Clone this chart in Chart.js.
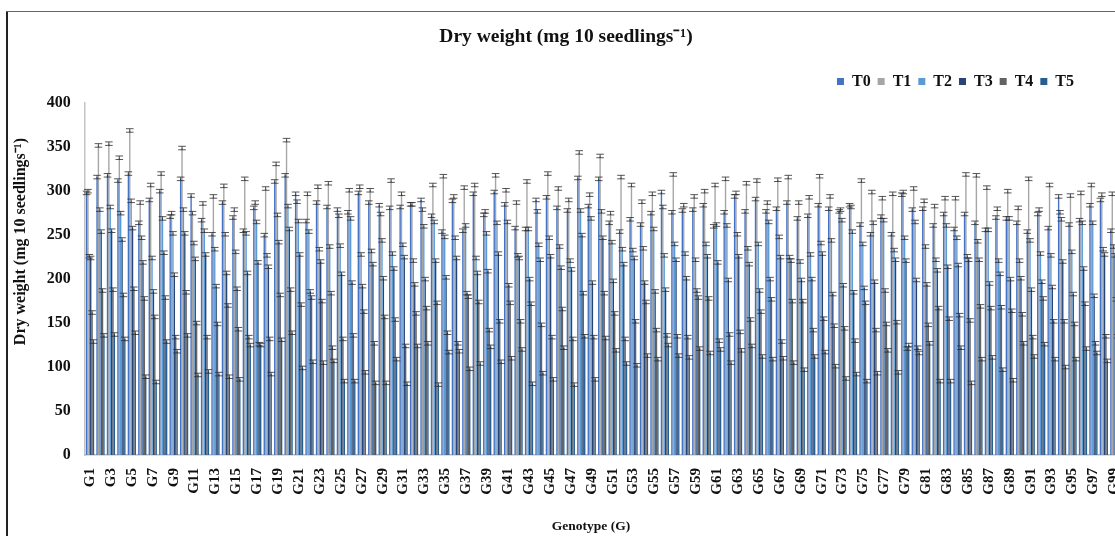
<!DOCTYPE html>
<html>
<head>
<meta charset="utf-8">
<style>
html,body{margin:0;padding:0;background:#fff;width:1115px;height:536px;overflow:hidden}
#wrap{position:absolute;left:0;top:0;width:1132px;height:536px}
#c{filter:blur(0.5px)}
#fl{position:absolute;left:6px;top:12px;width:2px;height:524px;background:#222}
#ft{position:absolute;left:6px;top:11px;width:1109px;height:1px;background:#666}
</style>
<script src="https://cdn.jsdelivr.net/npm/chart.js@4"></script>
</head>
<body>
<div id="wrap"><canvas id="c" width="1132" height="536" style="width:1132px;height:536px;display:block"></canvas></div>
<div id="fl"></div><div id="ft"></div>
<script>
const categories = ["G1","G2","G3","G4","G5","G6","G7","G8","G9","G10","G11","G12","G13","G14","G15","G16","G17","G18","G19","G20","G21","G22","G23","G24","G25","G26","G27","G28","G29","G30","G31","G32","G33","G34","G35","G36","G37","G38","G39","G40","G41","G42","G43","G44","G45","G46","G47","G48","G49","G50","G51","G52","G53","G54","G55","G56","G57","G58","G59","G60","G61","G62","G63","G64","G65","G66","G67","G68","G69","G70","G71","G72","G73","G74","G75","G76","G77","G78","G79","G80","G81","G82","G83","G84","G85","G86","G87","G88","G89","G90","G91","G92","G93","G94","G95","G96","G97","G98","G99","G100"];
const T0 = [298,316,318,312,320,264,290,300,271,314,295,267,251,287,270,255,281,250,311,318,297,266,287,282,279,276,298,287,284,281,282,285,290,272,254,289,255,297,273,299,285,258,257,290,293,281,278,315,283,314,264,254,268,262,275,299,276,278,279,284,260,276,294,277,291,277,280,287,269,272,284,280,277,284,262,251,271,251,296,279,280,261,274,257,274,264,256,270,269,264,254,274,258,294,262,267,284,290,255];
const T1 = [300,352,354,338,369,287,307,320,275,349,275,286,294,306,279,314,287,303,331,358,288,297,305,309,272,301,305,301,274,312,297,285,279,307,317,294,304,307,277,318,301,287,311,277,320,303,290,344,296,340,275,316,307,288,297,282,319,284,294,300,307,314,298,309,312,287,313,316,287,293,317,294,279,282,312,299,292,297,299,303,289,283,292,292,319,318,304,280,300,281,314,279,307,276,295,298,307,296,297];
const T2 = [226,279,282,275,289,247,224,269,252,279,241,255,234,251,231,252,265,227,273,283,266,254,234,237,238,269,228,232,244,229,239,221,260,265,248,247,261,224,252,264,265,227,257,239,247,237,221,278,269,277,242,234,233,235,257,227,240,229,222,240,262,261,251,235,240,265,248,225,220,228,241,244,267,254,240,264,267,233,247,265,237,222,261,247,226,243,256,221,269,221,244,229,227,268,231,264,264,234,237];
const T3 = [224,254,255,245,258,219,186,230,205,252,223,228,192,207,189,207,219,214,242,257,228,186,220,184,206,196,192,217,201,212,225,194,200,221,202,224,184,207,209,229,193,224,200,222,226,213,211,250,196,247,198,217,224,196,186,188,222,201,187,226,219,199,226,217,187,200,225,221,199,200,229,183,193,185,190,197,187,222,221,199,194,210,214,216,222,222,195,206,200,201,188,197,191,220,183,212,181,228,227];
const T4 = [162,187,188,182,189,178,157,179,134,185,150,134,149,170,143,134,126,132,182,188,171,179,175,122,132,136,163,127,157,154,124,161,167,173,139,127,180,174,142,152,173,152,172,148,134,166,132,184,134,184,161,132,152,174,142,136,135,134,179,178,130,137,140,154,163,177,129,175,175,142,155,147,144,130,173,142,149,151,121,122,148,167,155,159,153,169,167,168,164,160,134,178,152,152,149,172,127,135,177];
const T5 = [129,136,137,132,139,89,83,129,118,136,91,95,92,89,86,125,125,92,131,139,99,106,105,107,84,84,94,82,82,109,81,124,127,80,117,118,98,104,123,106,110,120,81,93,86,122,80,135,86,133,119,104,102,113,109,125,113,111,121,116,120,105,119,124,112,109,110,105,97,112,117,101,87,92,84,93,119,94,125,116,127,84,84,122,82,109,111,97,85,127,112,126,109,100,109,121,116,107,135];
const seriesNames = ["T0","T1","T2","T3","T4","T5"];
const seriesValues = [T0,T1,T2,T3,T4,T5];
const seriesColors = ["#4472C4","#A5A5A5","#5B9BD5","#264478","#636363","#255E91"];
const errorHalf = 2;
const yTicks = [0,50,100,150,200,250,300,350,400];
const titleText = "Dry weight (mg 10 seedlings\u207B\u00B9)";
const serif = "'Liberation Serif','Times New Roman',serif";

const errorBars = {
  id:'errorBars',
  afterDatasetsDraw(chart){
    const ctx = chart.ctx, y = chart.scales.y;
    ctx.save();
    ctx.strokeStyle = '#2b2b2b';
    ctx.lineWidth = 0.8;
    chart.data.datasets.forEach((ds,i)=>{
      chart.getDatasetMeta(i).data.forEach((bar,j)=>{
        const hi = y.getPixelForValue(ds.data[j]+errorHalf);
        const lo = y.getPixelForValue(ds.data[j]-errorHalf);
        const x = bar.x, w = 3.8;
        ctx.beginPath();
        ctx.moveTo(x,hi);ctx.lineTo(x,lo);
        ctx.moveTo(x-w,hi);ctx.lineTo(x+w,hi);
        ctx.moveTo(x-w,lo);ctx.lineTo(x+w,lo);
        ctx.stroke();
      });
    });
    ctx.restore();
  }
};
function shiftTitle(scale,dx,dy){
  const orig = scale.drawTitle;
  scale.drawTitle = function(){
    const c = this.ctx;
    c.save();c.translate(dx,dy);orig.call(this);c.restore();
  };
}
const placeBoxes = {
  id:'placeBoxes',
  afterLayout(chart){
    const l = chart.legend;
    const dx = 1081 - l.right;
    l.left += dx; l.right += dx;
    const h = l.bottom - l.top;
    l.top = 83 - h/2; l.bottom = l.top + h;
    chart.titleBlock.left = 0; chart.titleBlock.right = 1132;
    const x = chart.scales.x;
    x.left = 84.8; x.right = 1130; x.width = x.right - x.left;
    x.paddingLeft = 0; x.paddingRight = 0;
    x.configure();
    chart.chartArea.left = x.left; chart.chartArea.right = x.right; chart.chartArea.width = x.width;
    shiftTitle(chart.scales.y,0,-37.5);
    shiftTitle(x,591-(x.left+x.right)/2,0);
  }
};
new Chart(document.getElementById('c'),{
  type:'bar',
  data:{labels:categories,datasets:seriesNames.map((n,i)=>({label:n,data:seriesValues[i],backgroundColor:seriesColors[i],borderWidth:0,categoryPercentage:0.79,barPercentage:1}))},
  plugins:[errorBars,placeBoxes],
  options:{
    responsive:false,animation:false,
    layout:{autoPadding:false,padding:{left:0,right:2,top:0,bottom:0}},
    plugins:{
      tooltip:{enabled:false},
      title:{display:true,text:titleText,color:'#111',font:{family:serif,size:19.5,weight:'bold'},padding:{top:25,bottom:21.8}},
      legend:{display:true,position:'top',align:'end',labels:{boxWidth:7,boxHeight:7,padding:7,color:'#111',font:{family:serif,size:16,weight:'bold'}}}
    },
    scales:{
      x:{
        grid:{display:false},
        border:{display:true,color:'#bdbdbd',width:1.5},
        ticks:{autoSkip:false,minRotation:90,maxRotation:90,padding:5,color:'#111',font:{family:serif,size:15,weight:'bold'},
          callback(v,i){return i%2===0?categories[i]:'';}},
        title:{display:true,text:'Genotype (G)',color:'#111',font:{family:serif,size:13.5,weight:'bold'},padding:{top:0,bottom:1}},
        afterFit(s){s.height=81;}
      },
      y:{
        min:0,max:400,
        grid:{display:false},
        border:{display:true,color:'#c4c4c4',width:1.5},
        afterBuildTicks(s){s.ticks=yTicks.map(v=>({value:v}));},
        ticks:{padding:6,color:'#111',font:{family:serif,size:16,weight:'bold'}},
        title:{display:true,text:titleText,color:'#111',font:{family:serif,size:16,weight:'bold'},padding:{top:11,bottom:0}},
        afterFit(s){s.width=84.8;}
      }
    }
  }
});
</script>
</body>
</html>
